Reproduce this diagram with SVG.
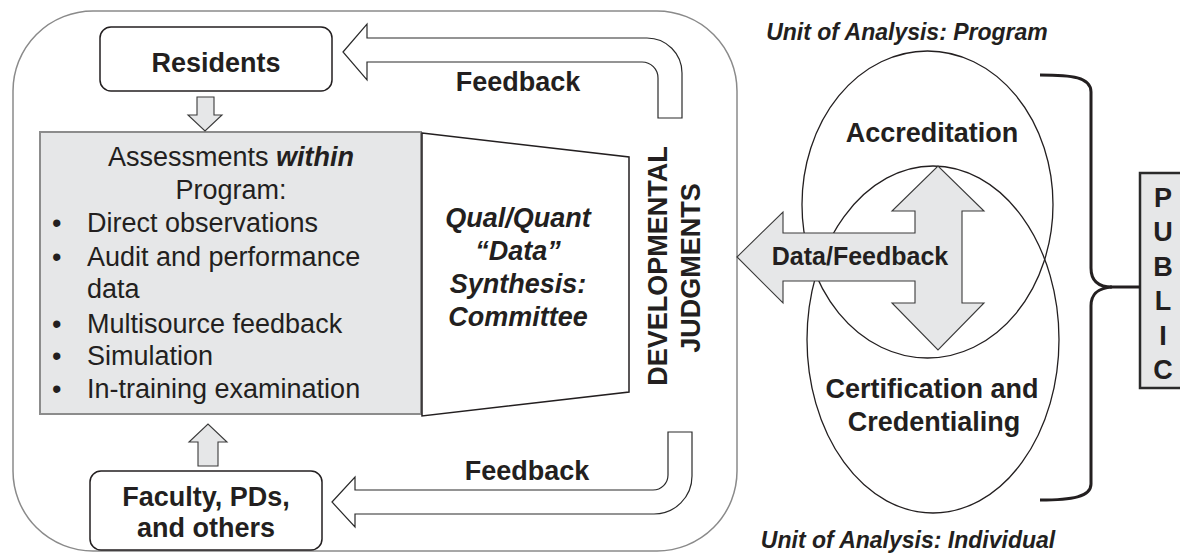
<svg xmlns="http://www.w3.org/2000/svg" width="1180" height="553" viewBox="0 0 1180 553">
  <defs>
    <style>
      text { font-family: "Liberation Sans", Arial, sans-serif; fill: #231f20; }
      .lbl { font-size: 27px; font-weight: bold; text-anchor: middle; }
      .bi { font-size: 27px; font-weight: bold; font-style: italic; text-anchor: middle; }
      .body { font-size: 27px; }
      .unit { font-size: 23px; font-weight: bold; font-style: italic; text-anchor: middle; }
      .frame { fill: #ffffff; stroke: #8a8a8a; stroke-width: 1.5; }
      .box { fill: #ffffff; stroke: #231f20; stroke-width: 1.5; }
      .panel { fill: #e6e7e8; stroke: #8c8c8c; stroke-width: 2; }
      .block { fill: #e6e7e8; stroke: #3a3a3a; stroke-width: 1.1; }
      .hollow { fill: #ffffff; stroke: #2a2a2a; stroke-width: 1.2; }
      .ring { fill: none; stroke: #231f20; stroke-width: 1.3; }
    </style>
  </defs>

  <!-- program boundary -->
  <rect id="program-frame" class="frame" x="13" y="11" width="724" height="540" rx="80" ry="80"/>

  <!-- nodes -->
  <g id="residents">
    <rect class="box" x="100" y="27" width="232" height="64" rx="11"/>
    <text class="lbl" x="216" y="72">Residents</text>
  </g>

  <g id="assessments">
    <rect class="panel" x="40" y="132" width="381" height="282"/>
    <text class="body" x="231" y="166" text-anchor="middle">Assessments <tspan font-weight="bold" font-style="italic">within</tspan></text>
    <text class="body" x="231" y="199" text-anchor="middle">Program:</text>
    <g font-size="27">
      <text x="52" y="232">•</text><text class="body" x="87" y="232">Direct observations</text>
      <text x="52" y="266">•</text><text class="body" x="87" y="266">Audit and performance</text>
      <text class="body" x="87" y="298">data</text>
      <text x="52" y="333">•</text><text class="body" x="87" y="333">Multisource feedback</text>
      <text x="52" y="365">•</text><text class="body" x="87" y="365">Simulation</text>
      <text x="52" y="398">•</text><text class="body" x="87" y="398">In-training examination</text>
    </g>
  </g>

  <g id="committee">
    <polygon class="box" points="422,133 629,157 629,392 422,416"/>
    <text class="bi" x="518" y="227">Qual/Quant</text>
    <text class="bi" x="518" y="260">“Data”</text>
    <text class="bi" x="518" y="293">Synthesis:</text>
    <text class="bi" x="518" y="326">Committee</text>
  </g>

  <g id="judgments">
    <text class="lbl" transform="translate(667,266) rotate(-90)">DEVELOPMENTAL</text>
    <text class="lbl" transform="translate(700,268) rotate(-90)">JUDGMENTS</text>
  </g>

  <g id="faculty">
    <rect class="box" x="90" y="471" width="232" height="79" rx="11"/>
    <text class="lbl" x="206" y="506" font-size="26">Faculty, PDs,</text>
    <text class="lbl" x="206" y="537" font-size="26">and others</text>
  </g>

  <g id="accreditation">
    <ellipse class="ring" cx="927.5" cy="204.5" rx="125.5" ry="153.5"/>
    <text class="lbl" x="932" y="142">Accreditation</text>
  </g>

  <g id="certification">
    <ellipse class="ring" cx="933" cy="339.5" rx="126" ry="173.5"/>
    <text class="lbl" x="932" y="398">Certification and</text>
    <text class="lbl" x="934" y="431">Credentialing</text>
  </g>

  <g id="unit-labels">
    <text class="unit" x="907" y="40">Unit of Analysis: Program</text>
    <text class="unit" x="908" y="548">Unit of Analysis: Individual</text>
  </g>

  <g id="public">
    <rect x="1140" y="173" width="60" height="215" fill="#e6e7e8" stroke="#2a2a2a" stroke-width="2.5"/>
    <text class="lbl" x="1163" y="207" font-size="25">P</text>
    <text class="lbl" x="1163" y="241" font-size="25">U</text>
    <text class="lbl" x="1163" y="276" font-size="25">B</text>
    <text class="lbl" x="1163" y="310" font-size="25">L</text>
    <text class="lbl" x="1163" y="345" font-size="25">I</text>
    <text class="lbl" x="1163" y="379" font-size="25">C</text>
  </g>

  <!-- connectors -->
  <g id="connectors">
    <!-- residents into assessments -->
    <path class="block" d="M197,97 L214,97 L214,115 L222,115 L205,131 L188,115 L197,115 Z"/>
    <!-- faculty into assessments -->
    <path class="block" d="M198,466 L218,466 L218,442 L227,442 L208,424 L189,442 L198,442 Z"/>
    <!-- feedback to residents -->
    <path class="hollow" d="M343,52 L367,24 L367,38 L647,38 A35,35 0 0 1 682,73 L682,118 L658,118 L658,78 A16,16 0 0 0 642,62 L367,62 L367,80 Z"/>
    <text class="lbl" x="518" y="91">Feedback</text>
    <!-- feedback to faculty -->
    <path class="hollow" d="M332,502 L355,477 L355,490 L653,490 A15,15 0 0 0 668,475 L668,432 L692,432 L692,476 A38,38 0 0 1 654,514 L355,514 L355,527 Z"/>
    <text class="lbl" x="527" y="480">Feedback</text>
    <!-- data/feedback exchange with accreditation and certification -->
    <path class="block" stroke="#231f20" d="M737,257 L783,212 L783,233 L915,233 L915,211 L892,211 L938,166 L984,211 L962,211 L962,303 L984,303 L938,350 L892,303 L915,303 L915,281 L783,281 L783,303 Z"/>
    <text x="860" y="265" font-family="Lato, 'Open Sans', sans-serif" font-weight="bold" font-size="25" text-anchor="middle">Data/Feedback</text>
    <!-- brace joining both levels to the public -->
    <path d="M1040,75 C1072,75 1091,77 1091,92 L1091,268 C1091,282 1100,287 1112,287 C1100,288 1091,292 1091,306 L1091,484 C1091,497 1072,500 1040,500" fill="none" stroke="#231f20" stroke-width="3"/>
    <line x1="1110" y1="287" x2="1140" y2="287" stroke="#231f20" stroke-width="3"/>
  </g>
</svg>
